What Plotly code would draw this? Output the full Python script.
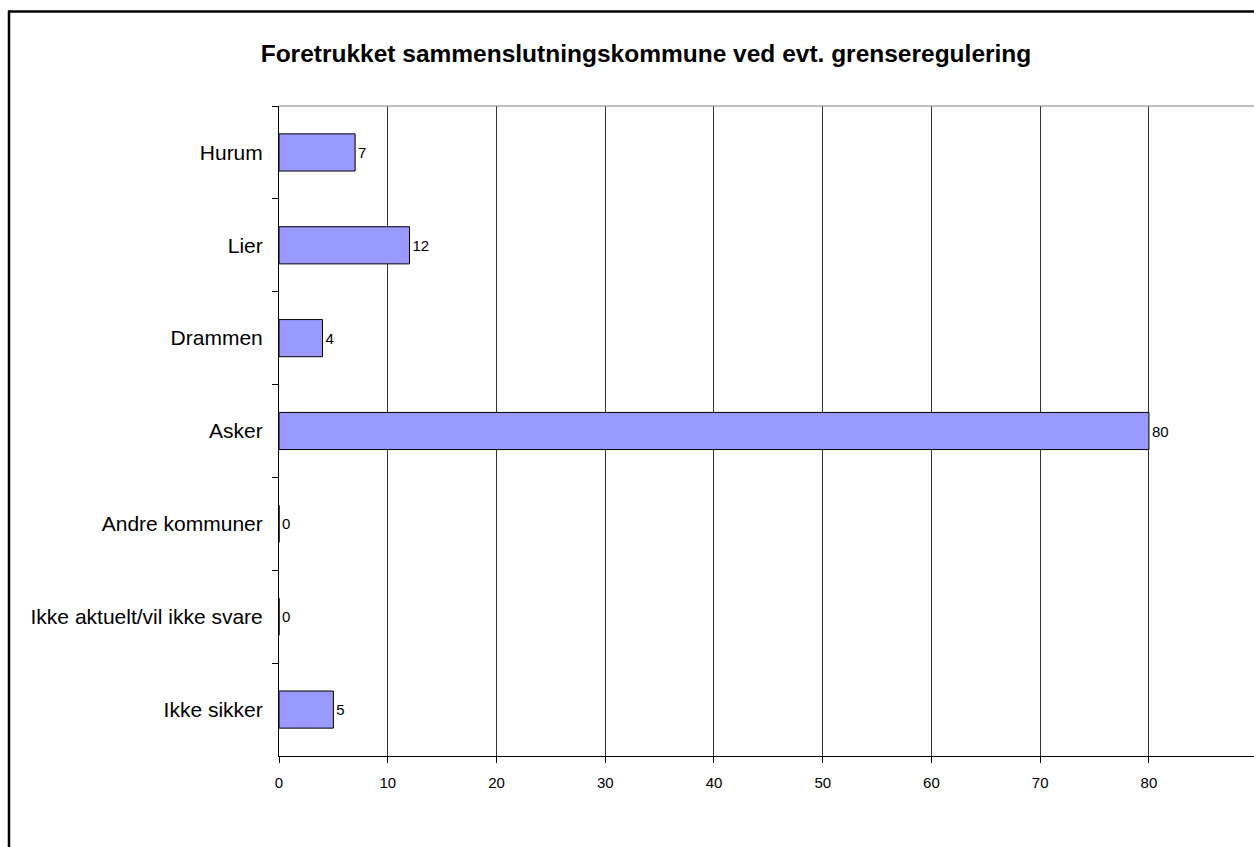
import plotly.graph_objects as go

# Preferred merger municipality (survey answers, %)
categories = [
    "Hurum",
    "Lier",
    "Drammen",
    "Asker",
    "Andre kommuner",
    "Ikke aktuelt/vil ikke svare",
    "Ikke sikker",
]
values = [7, 12, 4, 80, 0, 0, 5]
x_ticks = [0, 10, 20, 30, 40, 50, 60, 70, 80, 90]

W, H = 1254, 847
L, T, B = 279, 105.5, 91
plot_w = W - L
plot_h = H - T - B

fig = go.Figure(
    go.Bar(
        x=values,
        y=categories,
        orientation="h",
        width=0.4,
        marker=dict(color="#9999FF", line=dict(color="#000000", width=1)),
        text=values,
        textposition="outside",
        textfont=dict(family="Arial", size=15, color="#000000"),
        cliponaxis=False,
    )
)

fig.update_layout(
    width=W,
    height=H,
    autosize=False,
    margin=dict(l=L, r=0, t=T, b=B),
    paper_bgcolor="white",
    plot_bgcolor="white",
    showlegend=False,
    bargap=0.6,
    title=dict(
        text="<b>Foretrukket sammenslutningskommune ved evt. grenseregulering</b>",
        x=646 / W,
        xanchor="center",
        y=1 - 53 / H,
        yanchor="middle",
        font=dict(family="Arial", size=24.5, color="#000000"),
    ),
    font=dict(family="Arial", color="#000000"),
    shapes=[
        # outer chart frame (runs off the right/bottom edge)
        dict(type="rect", xref="paper", yref="paper",
             x0=(9 - L) / plot_w, x1=1.1, y0=-0.3, y1=1 + (T - 11) / plot_h,
             line=dict(color="#000000", width=2.5), layer="below"),
        # plot area top border
        dict(type="line", xref="paper", yref="paper",
             x0=0, x1=1, y0=1, y1=1,
             line=dict(color="#808080", width=1)),
    ],
)

fig.update_xaxes(
    range=[0, 89.66],
    tickvals=x_ticks,
    showgrid=True,
    gridcolor="#333333",
    gridwidth=1,
    showline=True,
    linecolor="#000000",
    linewidth=1,
    ticks="outside",
    ticklen=6,
    tickcolor="#000000",
    ticklabelstandoff=7,
    tickfont=dict(family="Arial", size=15, color="#000000"),
    zeroline=False,
    fixedrange=True,
)
fig.update_yaxes(
    categoryorder="array",
    categoryarray=categories,
    autorange="reversed",
    showgrid=False,
    showline=True,
    linecolor="#000000",
    linewidth=1,
    ticks="outside",
    tickson="boundaries",
    ticklen=6,
    tickcolor="#000000",
    ticklabelstandoff=11,
    tickfont=dict(family="Arial", size=21, color="#000000"),
    fixedrange=True,
)

fig.write_html(
    "out.html",
    config=dict(displayModeBar=False),
    post_script="document.body.style.margin='0';document.body.style.overflow='hidden';",
)
